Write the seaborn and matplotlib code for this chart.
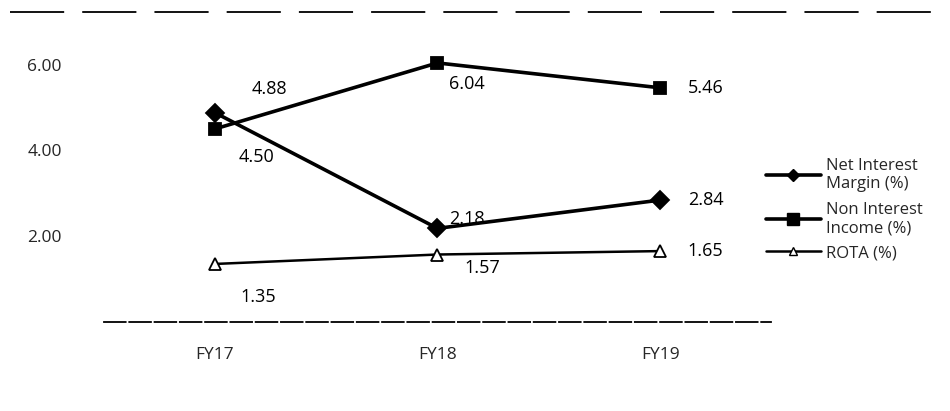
import matplotlib
matplotlib.use("Agg")
import matplotlib.pyplot as plt
import seaborn as sns
import pandas as pd
from matplotlib.lines import Line2D

years = ["FY17", "FY18", "FY19"]
nim = [4.88, 2.18, 2.84]
nii = [4.50, 6.04, 5.46]
rota = [1.35, 1.57, 1.65]
series_names = ["Net Interest\nMargin (%)", "Non Interest\nIncome (%)", "ROTA (%)"]
y_ticks = [2.00, 4.00, 6.00]

df = pd.DataFrame({
    "year": years * 3,
    "value": nim + nii + rota,
    "series": [series_names[0]] * 3 + [series_names[1]] * 3 + [series_names[2]] * 3,
})

sns.set_theme(style="white")
plt.rcParams["font.family"] = ["Open Sans", "DejaVu Sans"]

fig = plt.figure(figsize=(9.5, 4.11), dpi=100)
ax = fig.add_axes([0.109, 0.217, 0.703, 0.73])

markers = {series_names[0]: "D", series_names[1]: "s", series_names[2]: "^"}
widths = {series_names[0]: 2.6, series_names[1]: 2.6, series_names[2]: 1.8}
for name in series_names:
    sub = df[df["series"] == name]
    face = "white" if name == series_names[2] else "black"
    sns.lineplot(data=sub, x="year", y="value", ax=ax, color="black",
                 lw=widths[name], marker=markers[name],
                 markersize=9 if name != series_names[2] else 8,
                 markerfacecolor=face, markeredgecolor="black",
                 markeredgewidth=1.3, legend=False, sort=False)

ax.set_xlim(-0.5, 2.5)
ax.set_ylim(0, 7)
ax.set_yticks(y_ticks)
ax.set_yticklabels([f"{v:.2f}" for v in y_ticks], fontsize=12.5)
ax.tick_params(axis="y", pad=30, length=0)
ax.tick_params(axis="x", pad=18, length=0, labelsize=12.5)
ax.set_xlabel("")
ax.set_ylabel("")
for s in ["left", "top", "right"]:
    ax.spines[s].set_visible(False)
ax.spines["bottom"].set_color("black")
ax.spines["bottom"].set_linewidth(1.3)
ax.spines["bottom"].set_linestyle((0, (12, 2)))

# data labels
label_specs = [
    (nim, [(39, 17), (21, 7), (20, 0)], ["center", "center", "left"]),
    (nii, [(30, -20), (21, -15), (20, 0)], ["center", "center", "left"]),
    (rota, [(31, -24), (32, -10), (20, 0)], ["center", "center", "left"]),
]
for vals, offs, has in label_specs:
    for i, v in enumerate(vals):
        ax.annotate(f"{v:.2f}", (i, v), xytext=offs[i], textcoords="offset points",
                    ha=has[i], va="center", fontsize=13, color="black")

# legend
handles = [
    Line2D([], [], color="black", lw=2.6, marker="D", markersize=6,
           markerfacecolor="black", markeredgecolor="black"),
    Line2D([], [], color="black", lw=2.6, marker="s", markersize=8,
           markerfacecolor="black", markeredgecolor="black"),
    Line2D([], [], color="black", lw=1.8, marker="^", markersize=6,
           markerfacecolor="white", markeredgecolor="black"),
]
fig.legend(handles, series_names, loc="center left", bbox_to_anchor=(0.79, 0.49),
           frameon=False, fontsize=12, handlelength=3.3, handletextpad=0.3,
           labelspacing=0.55)

# scan-like border dashes at the top
fig.add_artist(Line2D([0.01, 0.99], [0.97, 0.97], transform=fig.transFigure,
                      color="black", lw=1.3, ls=(0, (30, 10))))

fig.savefig("out.png", dpi=100)
